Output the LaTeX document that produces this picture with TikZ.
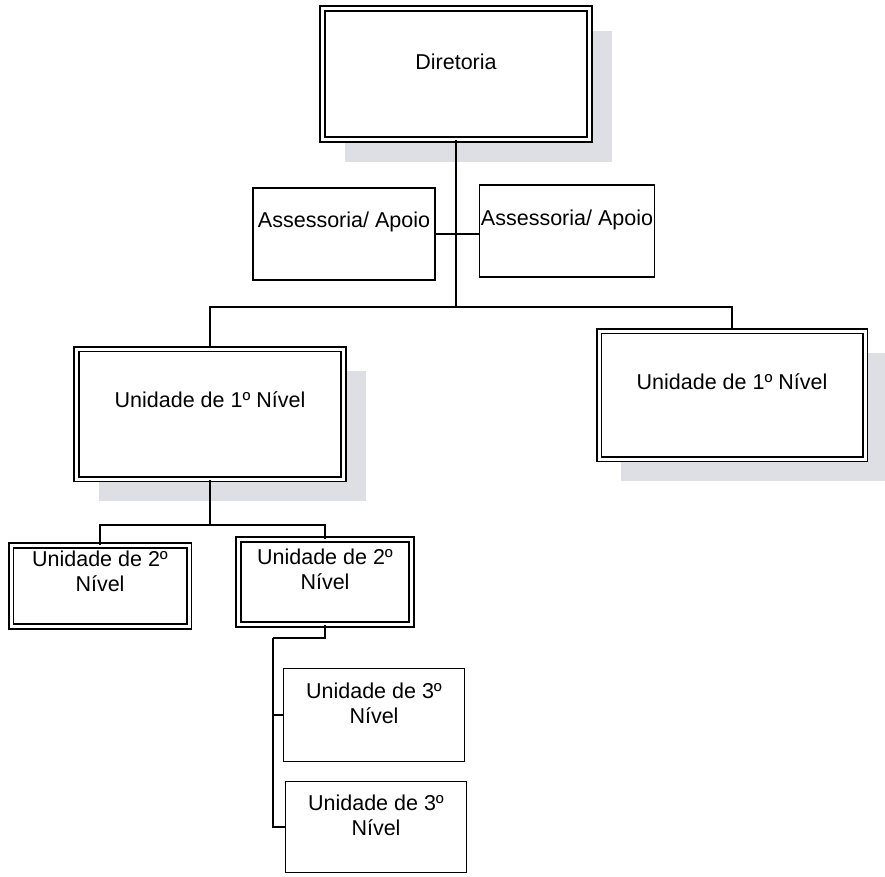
\documentclass[tikz,border=0pt]{standalone}
\usepackage{fontspec}
\setmainfont{Liberation Sans}
\usetikzlibrary{shadows,positioning}
\definecolor{shadowgray}{RGB}{221,223,228}

\begin{document}
\begin{tikzpicture}[x=1pt, y=-1pt, line width=1.6pt,
  font=\fontsize{21.5}{25}\selectfont,
  singlebox/.style={draw=black, fill=white, inner sep=0pt, align=center},
  doublebox/.style={singlebox, double=white, double distance=3pt, line width=1.8pt},
  shadowbox/.style={doublebox, drop shadow={shadow xshift=22pt, shadow yshift=-22pt,
    fill=shadowgray, opacity=1}}]
\useasboundingbox (0,0) rectangle (885,876);

\node[shadowbox, minimum width=267pt, minimum height=131pt,
 label={[yshift=12pt]center:Diretoria}] (dir) at (456,74) {};

\node[singlebox, minimum width=182pt, minimum height=92pt,
 label={[yshift=12pt]center:Assessoria/ Apoio}] (ass1) at (344,234) {};
\node[singlebox, minimum width=175pt, minimum height=92pt,
 label={[yshift=11pt]center:Assessoria/ Apoio}] (ass2) at (567,231) {};

\node[shadowbox, minimum width=267pt, minimum height=130pt,
 label={[yshift=14pt]center:Unidade de 1º Nível}] (uni1a) at (210,414) {};
\node[shadowbox, minimum width=266pt, minimum height=128pt,
 label={[yshift=13pt]center:Unidade de 1º Nível}] (uni1b) at (732,395) {};

\node[doublebox, minimum width=178pt, minimum height=81pt,
 label={[yshift=15pt, align=center]center:Unidade de 2º\\Nível}] (uni2a) at (100,586) {};
\node[doublebox, minimum width=173pt, minimum height=85pt,
 label={[yshift=13pt, align=center]center:Unidade de 2º\\Nível}] (uni2b) at (325,582) {};

\node[singlebox, minimum width=181pt, minimum height=93pt,
 label={[yshift=12pt, align=center]center:Unidade de 3º\\Nível}] (uni3a) at (374,715) {};
\node[singlebox, minimum width=181pt, minimum height=91pt,
 label={[yshift=12pt, align=center]center:Unidade de 3º\\Nível}] (uni3b) at (376,827) {};

\coordinate (bar) at (456,307);
\coordinate (bar2) at (210,525);
\coordinate (bar3) at (273,638);

\draw (dir.south) -- (bar);
\draw (ass1.east) -- (ass1.east -| ass2.west);
\draw (uni1a.north) |- (bar) -| (uni1b.north);
\draw (uni1a.south) -- (bar2);
\draw (uni2a.north) |- (bar2) -| (uni2b.north);
\draw (uni2b.south) |- (bar3);
\draw (bar3) |- (uni3a.west);
\draw (bar3) |- (uni3b.west);
\end{tikzpicture}
\end{document}
